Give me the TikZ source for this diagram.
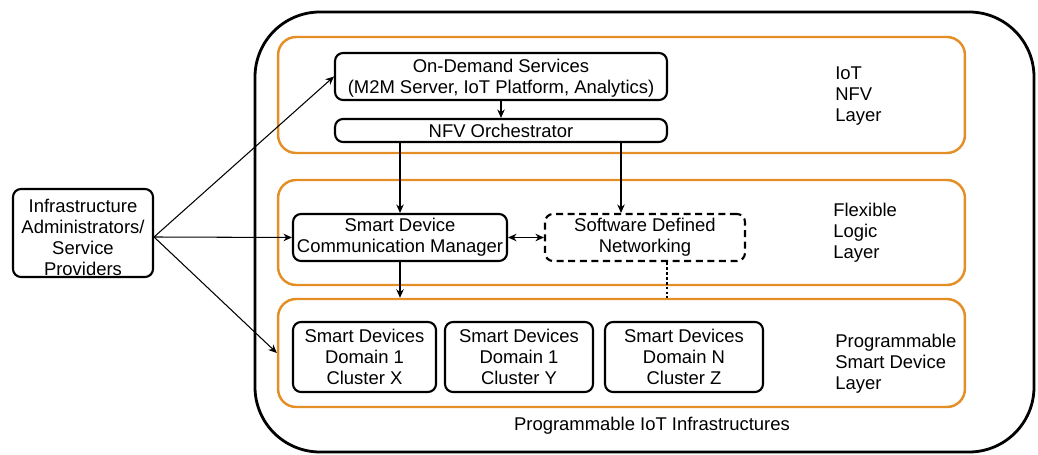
\documentclass[tikz,border=0pt]{standalone}
\usepackage{fontspec}
\setmainfont{Liberation Sans}
\usepackage{tikz}
\usetikzlibrary{arrows.meta,positioning,calc}
\definecolor{layerorange}{RGB}{228,142,38}
\tikzset{
  boxnd/.style={draw, line width=1.2pt, rounded corners=1.6mm, align=center, inner sep=0pt,
    font=\fontsize{10.5}{12}\selectfont},
  layernd/.style={draw=layerorange, line width=1.4pt, rounded corners=3.6mm, inner sep=0pt},
  lbl/.style={align=left, font=\fontsize{10.5}{12}\selectfont, anchor=west, inner sep=0pt},
  arr/.style={-{Stealth[length=1.7mm,width=1.5mm]}, line width=0.6pt},
  darr/.style={{Stealth[length=1.7mm,width=1.5mm]}-{Stealth[length=1.7mm,width=1.5mm]}, line width=0.6pt},
  dotln/.style={dash pattern=on 1.6pt off 1.2pt, line width=0.6pt},
}

\begin{document}
\begin{tikzpicture}[x=0.02cm, y=-0.02cm]
  \useasboundingbox (0,0) rectangle (1038,455);
  % outer frame
  \draw[line width=1.6pt, rounded corners=1.3cm] (255,12) rectangle (1034,452);
  \node[font=\fontsize{10.5}{12}\selectfont] (title) at (652,426) {Programmable IoT Infrastructures};
  % layers
  \node[layernd, minimum width=13.74cm, minimum height=2.32cm] (layer1) at (621.5,95) {};
  \node[layernd, minimum width=13.74cm, minimum height=2.10cm] (layer2) at (621.5,232.5) {};
  \node[layernd, minimum width=13.74cm, minimum height=2.16cm] (layer3) at (621.5,353) {};
  \node[lbl] (lbl1) at (835,96) {IoT\\NFV\\Layer};
  \node[lbl] (lbl2) at (833,233) {Flexible\\Logic\\Layer};
  \node[lbl] (lbl3) at (835,364) {Programmable\\Smart Device\\Layer};
  % boxes
  \node[boxnd, minimum width=6.64cm, minimum height=0.94cm] (ods) at (501,76.5)
    {\raisebox{-1.5pt}[\height][\depth]{\begin{tabular}{@{}c@{}}On-Demand Services\\(M2M Server, IoT Platform, Analytics)\end{tabular}}};
  \node[boxnd, minimum width=6.64cm, minimum height=0.46cm] (nfvo) at (501,130.5) {NFV Orchestrator};
  \node[boxnd, minimum width=4.28cm, minimum height=0.94cm] (sdcm) at (400,237.5)
    {Smart Device\\Communication Manager};
  \node[boxnd, dash pattern=on 4pt off 2.6pt, minimum width=4.0cm, minimum height=0.94cm] (sdn) at (645,237.5)
    {Software Defined\\Networking};
  \node[boxnd, minimum width=2.86cm, minimum height=1.4cm] (dom1) at (364.5,357)
    {Smart Devices\\Domain 1\\Cluster X};
  \node[boxnd, minimum width=2.96cm, minimum height=1.4cm] (dom2) at (519,357)
    {Smart Devices\\Domain 1\\Cluster Y};
  \node[boxnd, minimum width=3.16cm, minimum height=1.4cm] (dom3) at (684,357)
    {Smart Devices\\Domain N\\Cluster Z};
  \node[boxnd, minimum width=2.8cm, minimum height=1.76cm] (infra) at (83,233)
    {\raisebox{-4pt}[\height][\depth]{\begin{tabular}{@{}c@{}}Infrastructure\\Administrators/\\Service\\Providers\end{tabular}}};
  % connectors
  \draw[arr] (ods.south) -- (nfvo.north);
  \draw[arr] (sdcm.north |- nfvo.south) -- (sdcm.north);
  \draw[arr] ([xshift=-0.48cm]nfvo.south -| sdn.north) -- ([xshift=-0.48cm]sdn.north);
  \draw[darr] (sdcm.east) -- (sdn.west);
  \draw[arr] (sdcm.south) -- (sdcm.south |- layer3.north);
  \draw[dotln] ([xshift=0.44cm]sdn.south) -- ([xshift=0.44cm]sdn.south |- layer3.north);
  \draw[arr] ([yshift=-0.08cm]infra.east) -- (ods.west);
  \draw[arr] ([yshift=-0.08cm]infra.east) -- (sdcm.west);
  \draw[arr] ([yshift=-0.08cm]infra.east) -- (layer3.west);
\end{tikzpicture}
\end{document}
